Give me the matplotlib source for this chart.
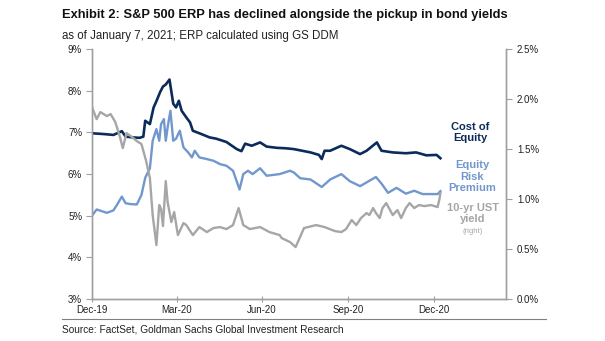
import matplotlib.pyplot as plt
import matplotlib.ticker as mticker
import pandas as pd

plt.rcParams['font.family'] = ['Liberation Sans', 'DejaVu Sans']

# Cost of equity (left axis, %)
coe_dates = ['2019-12-31', '2020-01-13', '2020-01-23', '2020-02-01', '2020-02-05', '2020-02-13',
             '2020-02-20', '2020-02-24', '2020-02-26', '2020-03-02', '2020-03-06', '2020-03-09',
             '2020-03-13', '2020-03-16', '2020-03-19', '2020-03-23', '2020-03-27', '2020-03-30',
             '2020-04-02', '2020-04-05', '2020-04-10', '2020-04-14', '2020-04-17', '2020-04-24',
             '2020-05-05', '2020-05-12', '2020-05-23', '2020-06-03', '2020-06-08', '2020-06-12',
             '2020-06-19', '2020-06-28', '2020-07-05', '2020-07-16', '2020-07-25', '2020-08-03',
             '2020-08-12', '2020-08-21', '2020-08-30', '2020-09-02', '2020-09-05', '2020-09-11',
             '2020-09-23', '2020-10-02', '2020-10-13', '2020-10-20', '2020-10-31', '2020-11-05',
             '2020-11-17', '2020-12-01', '2020-12-12', '2020-12-23', '2021-01-03', '2021-01-07']
coe_vals = [6.98, 6.96, 6.94, 7.03, 6.90, 6.88,
            6.87, 6.90, 7.28, 7.20, 7.60, 7.75,
            7.97, 8.10, 8.15, 8.27, 7.69, 7.60,
            7.76, 7.52, 7.36, 7.24, 7.04, 6.98,
            6.88, 6.85, 6.77, 6.60, 6.55, 6.73,
            6.68, 6.76, 6.66, 6.63, 6.62, 6.60,
            6.56, 6.52, 6.46, 6.36, 6.56, 6.56,
            6.68, 6.60, 6.48, 6.56, 6.76, 6.56,
            6.52, 6.50, 6.52, 6.45, 6.46, 6.38]

# Equity risk premium (left axis, %)
erp_dates = ['2019-12-31', '2020-01-05', '2020-01-16', '2020-01-23', '2020-01-27', '2020-02-01',
             '2020-02-05', '2020-02-10', '2020-02-17', '2020-02-22', '2020-02-26', '2020-03-02',
             '2020-03-05', '2020-03-09', '2020-03-12', '2020-03-14', '2020-03-17', '2020-03-19',
             '2020-03-21', '2020-03-24', '2020-03-27', '2020-03-30', '2020-04-03', '2020-04-07',
             '2020-04-12', '2020-04-16', '2020-04-19', '2020-04-24', '2020-05-02', '2020-05-09',
             '2020-05-16', '2020-05-23', '2020-05-30', '2020-06-06', '2020-06-10', '2020-06-15',
             '2020-06-20', '2020-06-28', '2020-07-05', '2020-07-19', '2020-07-30', '2020-08-03',
             '2020-08-10', '2020-08-21', '2020-09-02', '2020-09-11', '2020-09-23', '2020-10-02',
             '2020-10-13', '2020-10-20', '2020-10-30', '2020-11-05', '2020-11-12', '2020-11-21',
             '2020-12-01', '2020-12-10', '2020-12-19', '2021-01-04', '2021-01-07']
erp_vals = [5.00, 5.15, 5.07, 5.13, 5.27, 5.46,
            5.30, 5.28, 5.27, 5.50, 5.91, 6.14,
            6.80, 7.08, 6.80, 7.20, 7.32, 6.80,
            7.12, 7.52, 6.80, 6.85, 7.04, 6.64,
            6.52, 6.40, 6.56, 6.40, 6.36, 6.32,
            6.24, 6.20, 6.08, 5.63, 6.00, 6.08,
            6.00, 6.14, 5.96, 6.00, 6.08, 6.04,
            5.90, 5.87, 5.69, 5.87, 6.00, 5.83,
            5.71, 5.80, 5.93, 5.77, 5.55, 5.67,
            5.53, 5.60, 5.52, 5.52, 5.59]

# 10-yr UST yield (right axis, %)
ust_dates = ['2019-12-31', '2020-01-05', '2020-01-09', '2020-01-16', '2020-01-20', '2020-01-25',
             '2020-01-30', '2020-02-02', '2020-02-06', '2020-02-12', '2020-02-17', '2020-02-22',
             '2020-02-27', '2020-03-02', '2020-03-05', '2020-03-09', '2020-03-12', '2020-03-14',
             '2020-03-16', '2020-03-19', '2020-03-21', '2020-03-25', '2020-03-28', '2020-04-01',
             '2020-04-07', '2020-04-10', '2020-04-17', '2020-04-24', '2020-05-02', '2020-05-09',
             '2020-05-16', '2020-05-23', '2020-05-30', '2020-06-05', '2020-06-10', '2020-06-17',
             '2020-06-28', '2020-07-08', '2020-07-19', '2020-07-21', '2020-07-30', '2020-08-05',
             '2020-08-14', '2020-08-27', '2020-09-05', '2020-09-16', '2020-09-23', '2020-09-28',
             '2020-10-04', '2020-10-09', '2020-10-14', '2020-10-20', '2020-10-23', '2020-10-27',
             '2020-10-30', '2020-11-03', '2020-11-06', '2020-11-10', '2020-11-17', '2020-11-22',
             '2020-11-26', '2020-12-01', '2020-12-05', '2020-12-10', '2020-12-15', '2020-12-21',
             '2020-12-28', '2021-01-04', '2021-01-06', '2021-01-07']
ust_vals = [1.92, 1.80, 1.87, 1.83, 1.85, 1.77,
            1.62, 1.51, 1.66, 1.62, 1.58, 1.55,
            1.38, 1.21, 0.84, 0.54, 0.94, 0.90,
            0.73, 1.18, 0.97, 0.77, 0.87, 0.64,
            0.76, 0.74, 0.64, 0.72, 0.67, 0.71,
            0.72, 0.70, 0.74, 0.91, 0.74, 0.70,
            0.72, 0.67, 0.64, 0.61, 0.57, 0.52,
            0.71, 0.74, 0.72, 0.68, 0.67, 0.70,
            0.79, 0.74, 0.81, 0.86, 0.84, 0.91,
            0.86, 0.81, 0.91, 0.96, 0.84, 0.89,
            0.81, 0.91, 0.96, 0.91, 0.94, 0.93,
            0.94, 0.92, 1.00, 1.06]

tick_dates = ['2019-12-31', '2020-03-31', '2020-06-30', '2020-09-30', '2020-12-31']
tick_labels = ['Dec-19', 'Mar-20', 'Jun-20', 'Sep-20', 'Dec-20']

navy = '#0B2B5A'
blue = '#7197CC'
grey = '#A6A6A6'
axis_grey = '#A0A0A0'

fig = plt.figure(figsize=(6.05, 3.41), dpi=100)
ax = fig.add_axes([0.152, 0.123, 0.684, 0.733])
ax2 = ax.twinx()

ax.plot(pd.to_datetime(coe_dates), coe_vals, color=navy, lw=1.9, zorder=3)
ax.plot(pd.to_datetime(erp_dates), erp_vals, color=blue, lw=1.7, zorder=2)
ax2.plot(pd.to_datetime(ust_dates), ust_vals, color=grey, lw=1.7)

ax.set_ylim(3, 9)
ax2.set_ylim(0, 2.5)
ax.set_xlim(pd.Timestamp('2019-12-31'), pd.Timestamp('2021-03-18'))

ax.yaxis.set_major_locator(mticker.MultipleLocator(1))
ax.yaxis.set_major_formatter(mticker.FuncFormatter(lambda v, p: f'{v:.0f}%'))
ax2.yaxis.set_major_locator(mticker.MultipleLocator(0.5))
ax2.yaxis.set_major_formatter(mticker.FuncFormatter(lambda v, p: f'{v:.1f}%'))

ax.set_xticks(pd.to_datetime(tick_dates))
ax.set_xticklabels(tick_labels)

for a in (ax, ax2):
    a.spines['top'].set_visible(False)
    for s in ('left', 'right', 'bottom'):
        a.spines[s].set_color(axis_grey)
        a.spines[s].set_linewidth(1.0)
    a.tick_params(axis='both', labelsize=7, colors=axis_grey, labelcolor='#222222',
                  length=4, width=0.8)
ax.tick_params(axis='x', direction='inout', length=5, pad=2)
ax.tick_params(axis='y', pad=3)
ax2.tick_params(axis='y', pad=4)

# Series labels
ax.text(0.777, 0.611, 'Cost of\nEquity', transform=fig.transFigure, ha='center', va='center',
        fontsize=8, fontweight='bold', color=navy, linespacing=1.15)
ax.text(0.780, 0.482, 'Equity\nRisk\nPremium', transform=fig.transFigure, ha='center',
        va='center', fontsize=8, fontweight='bold', color=blue, linespacing=1.15)
ax.text(0.781, 0.374, '10-yr UST\nyield', transform=fig.transFigure, ha='center',
        va='center', fontsize=8, fontweight='bold', color=grey, linespacing=1.15)
ax.text(0.781, 0.320, '(right)', transform=fig.transFigure, ha='center', va='center',
        fontsize=5.5, color=grey)

fig.text(0.103, 0.955, 'Exhibit 2: S&P 500 ERP has declined alongside the pickup in bond yields',
         fontsize=9.3, fontweight='bold', color='#111111', va='center')
fig.text(0.103, 0.895, 'as of January 7, 2021; ERP calculated using GS DDM',
         fontsize=8.3, color='#222222', va='center')
fig.add_artist(plt.Line2D([0.103, 0.902], [0.064, 0.064], transform=fig.transFigure,
                          color='#808080', lw=0.8))
fig.text(0.103, 0.035, 'Source: FactSet, Goldman Sachs Global Investment Research',
         fontsize=7.3, color='#222222', va='center')

fig.savefig('out.png', dpi=100)
